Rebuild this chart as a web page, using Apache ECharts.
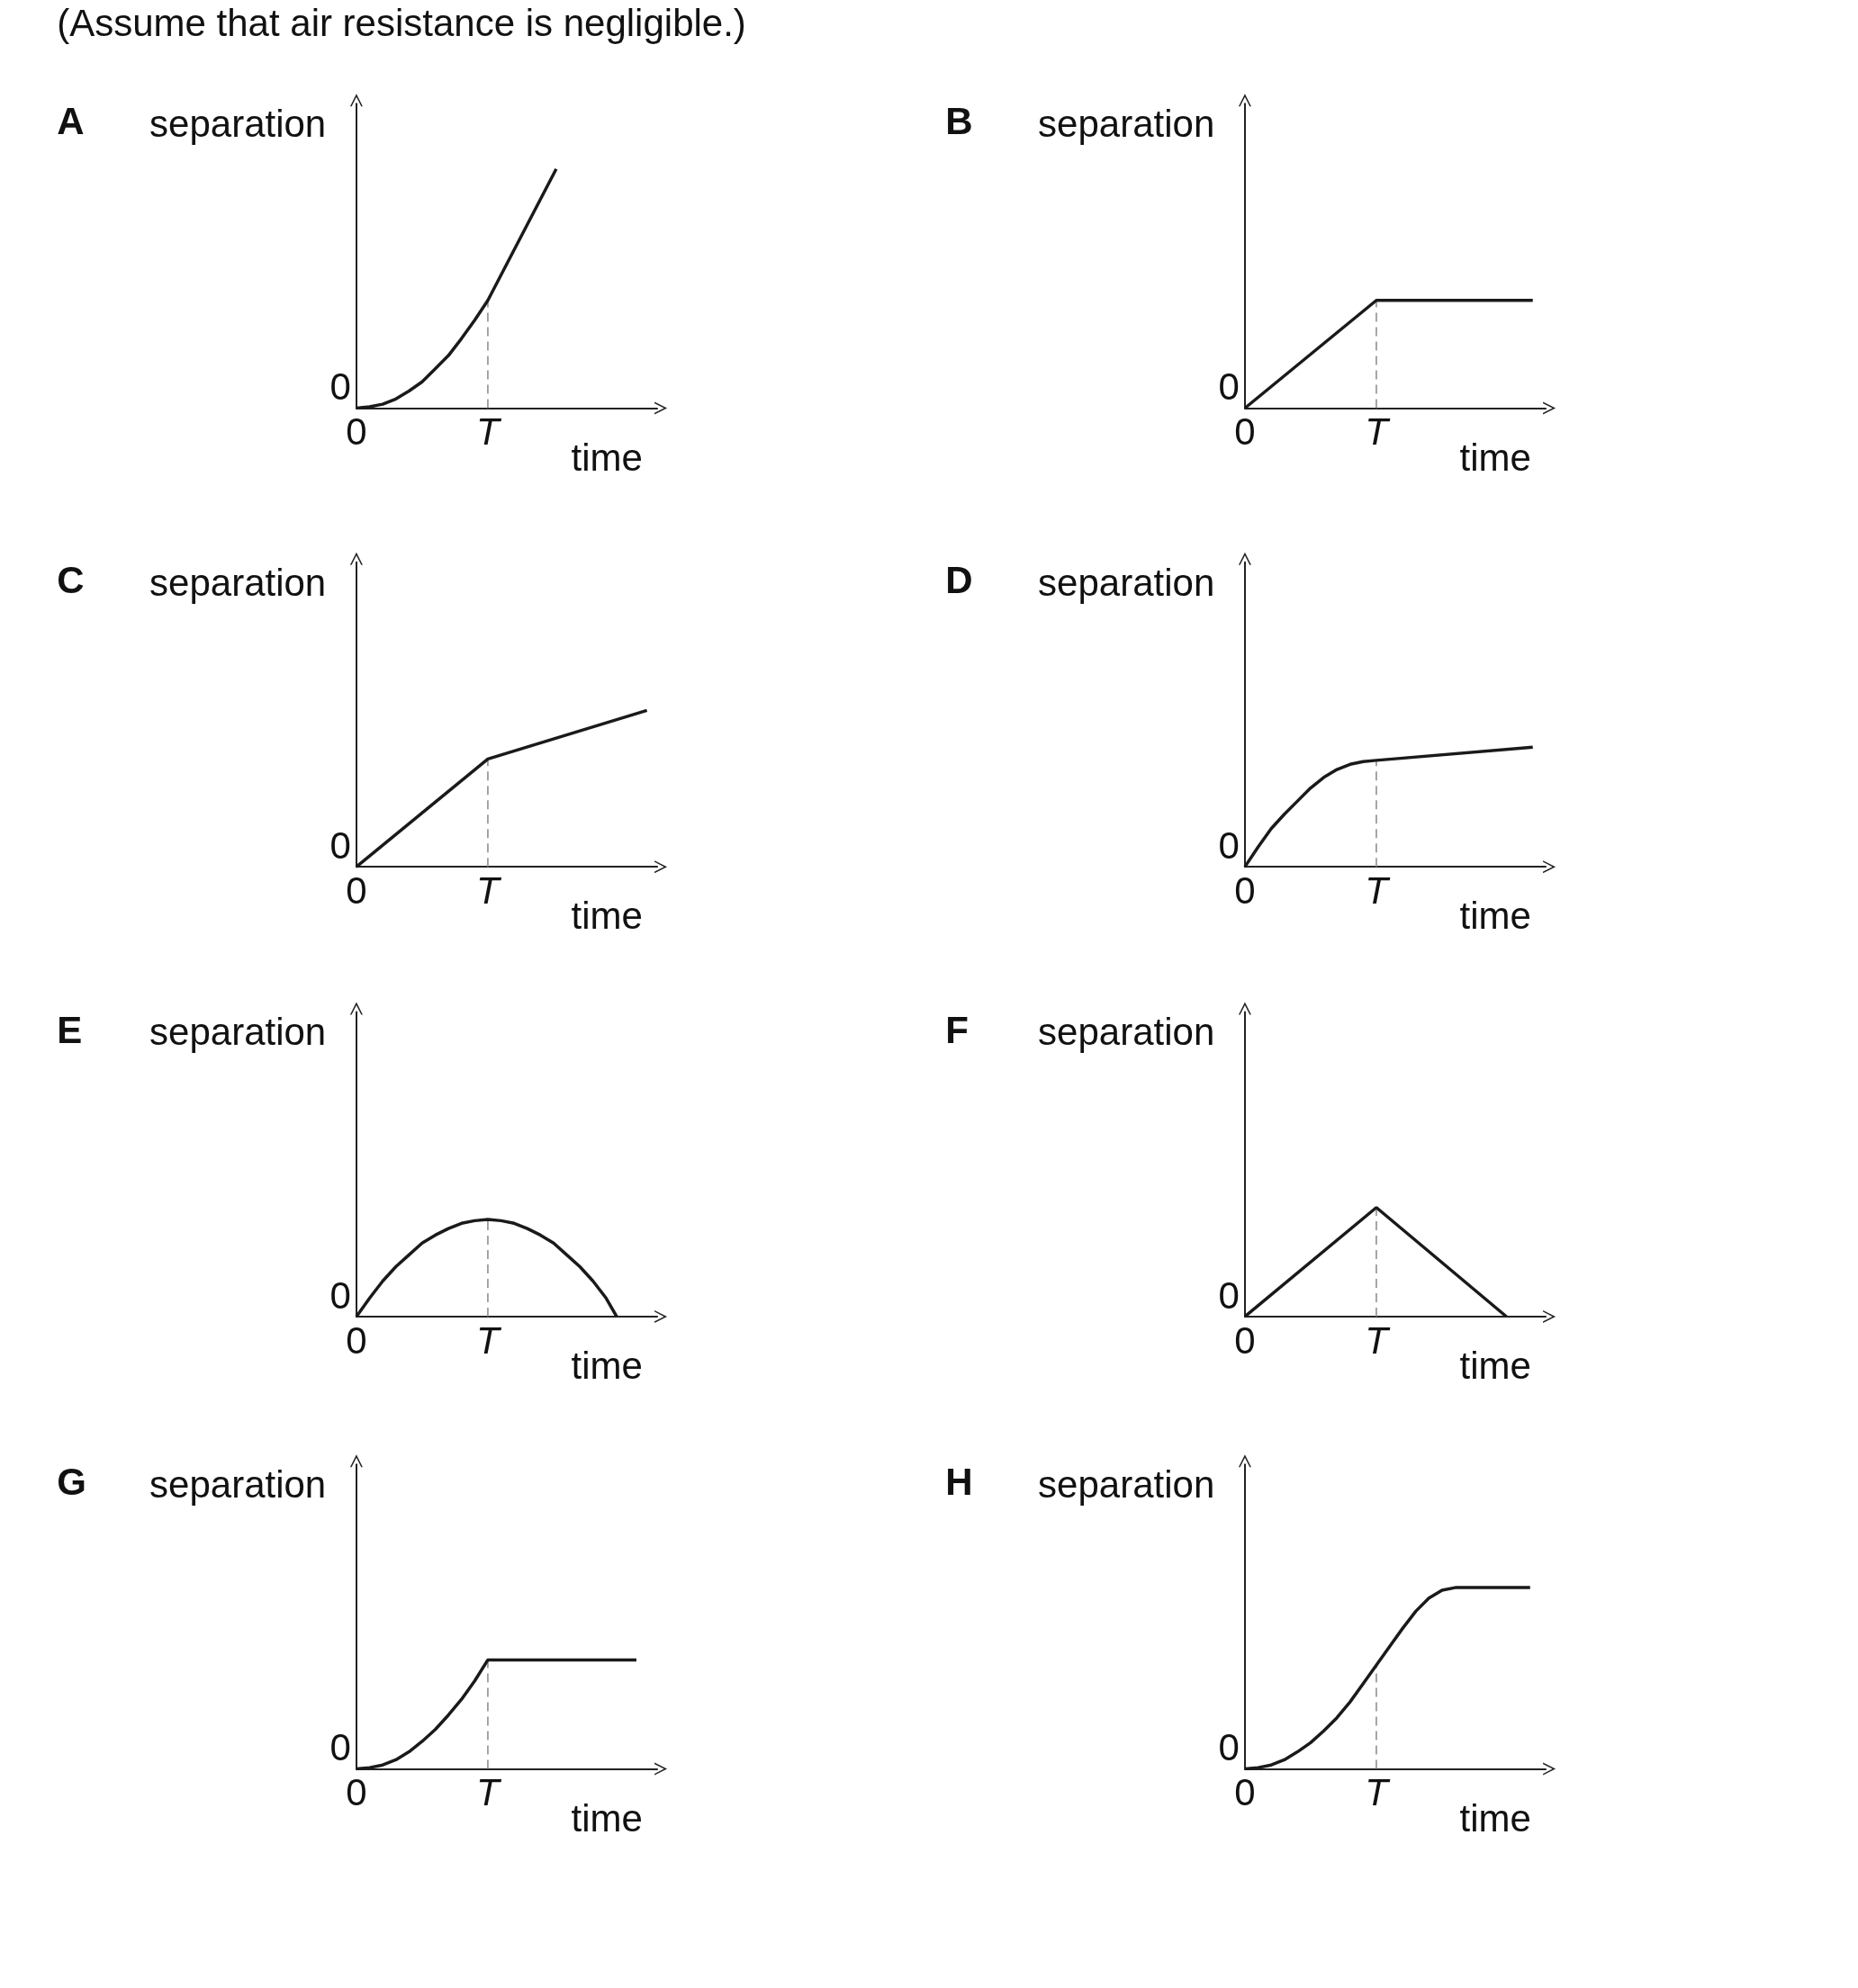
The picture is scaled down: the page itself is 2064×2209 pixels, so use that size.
<!DOCTYPE html><html><head><meta charset="utf-8"><script src="https://cdn.jsdelivr.net/npm/echarts@6/dist/echarts.min.js"></script>
<style>html,body{margin:0;background:#fff}#c{width:2064px;height:2209px}</style></head><body><div id="c"></div><script>
const letters=['A','B','C','D','E','F','G','H'];
const curveA=[[0,0],[0.1,0.01],[0.2,0.03],[0.3,0.07],[0.4,0.13],[0.5,0.2],[0.6,0.3],[0.7,0.4],[0.8,0.53],[0.9,0.67],[1,0.82],[1.52,1.82]];
const curveB=[[0,0],[1,0.82],[2.19,0.82]];
const curveC=[[0,0],[1,0.82],[2.21,1.19]];
const curveD=[[0,0],[0.1,0.15],[0.2,0.29],[0.3,0.4],[0.4,0.5],[0.5,0.6],[0.6,0.68],[0.7,0.74],[0.8,0.78],[0.9,0.8],[1,0.81],[2.19,0.91]];
const curveE=[[0,0],[0.1,0.14],[0.2,0.27],[0.3,0.38],[0.4,0.47],[0.5,0.56],[0.6,0.62],[0.7,0.67],[0.8,0.71],[0.9,0.73],[1,0.74],[1.1,0.73],[1.2,0.71],[1.3,0.67],[1.4,0.62],[1.5,0.56],[1.6,0.47],[1.7,0.38],[1.8,0.27],[1.9,0.14],[1.98,0]];
const curveF=[[0,0],[1,0.83],[1.99,0]];
const curveG=[[0,0],[0.1,0.01],[0.2,0.03],[0.3,0.07],[0.4,0.13],[0.5,0.21],[0.6,0.3],[0.7,0.41],[0.8,0.53],[0.9,0.67],[1,0.83],[2.13,0.83]];
const curveH=[[0,0],[0.1,0.01],[0.2,0.03],[0.3,0.07],[0.4,0.13],[0.5,0.2],[0.6,0.29],[0.7,0.39],[0.8,0.51],[0.9,0.65],[1,0.79],[1.1,0.93],[1.2,1.07],[1.3,1.2],[1.4,1.3],[1.5,1.36],[1.6,1.38],[2.17,1.38]];
const curves=[curveA,curveB,curveC,curveD,curveE,curveF,curveG,curveH];
const heightAtT=[0.82,0.82,0.82,0.81,0.74,0.83,0.83,0.79];
const S=1.404, F='"Liberation Sans", Arial, sans-serif';
const colX=[282,985], rowBase=[323,686,1042,1400];
const arrow='path://M0,12 L6,0 L12,12 L10.6,12 L6,3 L1.4,12 Z';
const grids=[],xA=[],yA=[],series=[],graphic=[];
graphic.push({type:'text',left:45*S,top:5*S,style:{text:'(Assume that air resistance is negligible.)',font:'42px '+F,fill:'#111'}});
curves.forEach((c,i)=>{
  const col=i%2,row=Math.floor(i/2),x0=colX[col],yb=rowBase[row];
  grids.push({left:x0*S,top:(yb-241)*S,width:238*S,height:241*S});
  xA.push({gridIndex:i,type:'value',min:0,max:238/104,interval:1,splitLine:{show:false},
    axisLine:{lineStyle:{color:'#222',width:2},symbol:['none',arrow],symbolSize:[24,14],symbolOffset:[0,4]},
    axisTick:{show:false},axisLabel:{showMaxLabel:false,margin:8,fontSize:42,fontFamily:F,color:'#111',
      formatter:v=>v===0?'0':(v===1?'{t|T}':''),rich:{t:{fontStyle:'italic',fontSize:42,fontFamily:F,color:'#111'}}}});
  yA.push({gridIndex:i,type:'value',min:0,max:241/104,interval:1,splitLine:{show:false},
    axisLine:{lineStyle:{color:'#222',width:2},symbol:['none',arrow],symbolSize:[24,14],symbolOffset:[0,4]},
    axisTick:{show:false},axisLabel:{showMaxLabel:false,margin:6,verticalAlign:'bottom',fontSize:42,fontFamily:F,color:'#111',
      formatter:v=>v===0?'0':''}});
  series.push({type:'line',xAxisIndex:i,yAxisIndex:i,data:c,showSymbol:false,smooth:false,
    lineStyle:{color:'#1a1a1a',width:3.5},z:5});
  series.push({type:'line',xAxisIndex:i,yAxisIndex:i,data:[[1,0],[1,heightAtT[i]]],showSymbol:false,
    lineStyle:{color:'#888',width:1.5,type:[10,6]},z:3});
  graphic.push({type:'text',left:(col?748:45)*S,top:(yb-240)*S,style:{text:letters[i],font:'bold 42px '+F,fill:'#111'}});
  graphic.push({type:'text',right:2064-(x0-24)*S,top:(yb-238)*S,style:{text:'separation',font:'42px '+F,fill:'#111',textAlign:'right'}});
  graphic.push({type:'text',left:(x0+170)*S,top:(yb+26)*S,style:{text:'time',font:'42px '+F,fill:'#111'}});
});
const ch=echarts.init(document.getElementById('c'));
ch.setOption({animation:false,grid:grids,xAxis:xA,yAxis:yA,series,graphic});
</script></body></html>
